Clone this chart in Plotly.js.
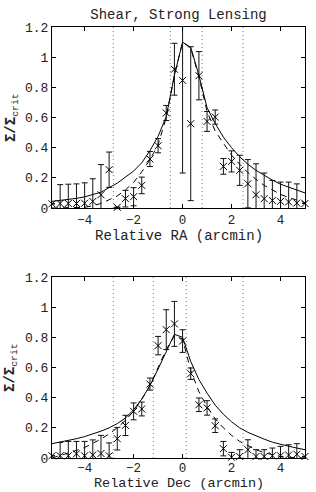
<!DOCTYPE html>
<html>
<head>
<meta charset="utf-8">
<script src="https://cdn.plot.ly/plotly-3.0.1.min.js"></script>
<style>html,body{margin:0;padding:0;background:#fff;}#plot{width:316px;height:492px;}</style>
</head>
<body>
<div id="plot"></div>
<script>
// Offsets in arcmin (same bins for both panels)
const offsets = [-5.333,-5,-4.667,-4.333,-4,-3.667,-3.333,-3,-2.667,-2.333,-2,-1.667,-1.333,-1,-0.667,-0.333,0,
                 0.333,0.667,1,1.333,1.667,2,2.333,2.667,3,3.333,3.667,4,4.333,4.667,5];

// Panel 1: Relative RA
const raData  = [0.028,0.03,0.03,0.03,0.032,0.044,0.088,0.254,0.005,0.062,0.075,0.15,0.325,0.413,0.63,0.92,0.846,
                 0.559,0.877,0.574,0.603,0.276,0.309,0.25,0.161,0.088,0.062,0.05,0.044,0.04,0.033,0.03];
const raErr   = [0,0.125,0.128,0.13,0.135,0.15,0.2,0.117,0,0.055,0.06,0.055,0.05,0.047,0.05,0.172,0.614,
                 0.51,0.16,0.066,0.047,0.052,0.07,0.1,0.16,0.205,0.17,0.133,0.128,0.132,0.127,0];
const raModelSolid  = [0.044,0.05,0.056,0.064,0.074,0.088,0.105,0.135,0.165,0.205,0.245,0.3,0.38,0.475,0.607,0.88,1.1,
                       1.065,0.88,0.665,0.56,0.47,0.4,0.34,0.29,0.25,0.215,0.185,0.158,0.138,0.118,0.1];
const raModelDashed = [0,0,0,0,0.005,0.015,0.03,0.055,0.08,0.12,0.17,0.24,0.32,0.42,0.6,0.88,1.1,
                       1.06,0.87,0.64,0.51,0.43,0.35,0.29,0.235,0.19,0.15,0.12,0.09,0.07,0.05,0.035];
const raGuides = [-2.83,-0.5,0.8,2.47];

// Panel 2: Relative Dec
const decData = [0.015,0.015,0.015,0.028,0.015,0.02,0.03,0.015,0.128,0.216,0.309,0.325,0.49,0.745,0.851,0.889,0.775,
                 0.559,0.353,0.332,0.214,0.062,0.005,0.01,0.055,0.01,0.01,0.015,0.015,0.02,0.025,0.01];
const decErr  = [0,0.088,0.095,0.082,0.095,0.1,0.12,0.085,0.075,0.067,0.056,0.046,0.04,0.061,0.132,0.149,0.075,
                 0.038,0.045,0.048,0.045,0.048,0.032,0.045,0.066,0.045,0.045,0.051,0.062,0.068,0.07,0];
const decModelSolid  = [0.095,0.105,0.115,0.128,0.142,0.158,0.178,0.2,0.228,0.265,0.32,0.39,0.48,0.59,0.71,0.82,0.8,
                        0.64,0.52,0.43,0.35,0.29,0.24,0.2,0.17,0.145,0.125,0.105,0.09,0.078,0.066,0.055];
const decModelDashed = [0,0.015,0.03,0.05,0.07,0.095,0.125,0.16,0.2,0.25,0.31,0.39,0.48,0.6,0.72,0.81,0.79,
                        0.58,0.44,0.34,0.26,0.2,0.15,0.11,0.08,0.055,0.035,0.02,0.01,0.005,0,0];
const decGuides = [-2.83,-1.2,0.15,2.47];

const yTickVals = [0,0.2,0.4,0.6,0.8,1,1.2];
const yTickText = ['0','0.2','0.4','0.6','0.8','1','1.2'];
const xTickVals = [-4,-2,0,2,4];
const xTickText = ['\u22124','\u22122','0','2','4'];

const FONT = 'Liberation Mono, Courier New, monospace';
const TXT = '#222';

function panelTraces(data, err, solid, dashed, guides, xa, ya) {
  const tr = [];
  guides.forEach(g => tr.push({x:[g,g], y:[0,1.2], xaxis:xa, yaxis:ya, mode:'lines',
      line:{color:'#777', width:1, dash:'1px,3px'}, hoverinfo:'skip', showlegend:false}));
  tr.push({x:offsets, y:solid, xaxis:xa, yaxis:ya, mode:'lines', line:{color:'#000', width:1}, showlegend:false});
  tr.push({x:offsets, y:dashed, xaxis:xa, yaxis:ya, mode:'lines', line:{color:'#000', width:1, dash:'6px,5px'}, showlegend:false});
  tr.push({x:offsets, y:data, xaxis:xa, yaxis:ya, mode:'markers', marker:{opacity:0, size:2},
      error_y:{type:'data', array:err, visible:true, color:'#111', thickness:1, width:3},
      cliponaxis:true, showlegend:false});
  tr.push({x:offsets, y:data, xaxis:xa, yaxis:ya, mode:'markers',
      marker:{symbol:'x-thin-open', size:7, color:'#000', line:{color:'#000', width:1}},
      cliponaxis:false, showlegend:false});
  return tr;
}

const traces = [].concat(
  panelTraces(raData, raErr, raModelSolid, raModelDashed, raGuides, 'x', 'y'),
  panelTraces(decData, decErr, decModelSolid, decModelDashed, decGuides, 'x2', 'y2')
);

function xax(anchor, standoff) {
  return {anchor:anchor, range:[-5.333,5], tickvals:xTickVals, ticktext:xTickText, ticks:'inside', ticklen:4,
    tickcolor:'#000', showline:true, linecolor:'#000', linewidth:1, mirror:'allticks', showgrid:false, zeroline:false,
    ticklabelstandoff:standoff,
    tickfont:{family:FONT, size:12.5, color:TXT}};
}
function yax(anchor, domain) {
  return {anchor:anchor, domain:domain, range:[0,1.2], tickvals:yTickVals, ticktext:yTickText, ticks:'inside', ticklen:4,
    tickcolor:'#000', showline:true, linecolor:'#000', linewidth:1, mirror:'allticks', showgrid:false, zeroline:false,
    tickfont:{family:FONT, size:13, color:TXT}};
}

const layout = {
  width:316, height:492,
  margin:{l:52, r:11, t:27, b:34},
  paper_bgcolor:'#fff', plot_bgcolor:'#fff',
  showlegend:false,
  title:{text:'Shear, Strong Lensing', font:{family:FONT, size:14, color:TXT},
         x:0.565, xanchor:'center', y:0.972, yanchor:'middle', yref:'container'},
  xaxis: xax('y', 0),
  yaxis: yax('x', [0.58, 1]),
  xaxis2: xax('y2', -2),
  yaxis2: yax('x2', [0, 0.42]),
  annotations:[
    {text:'Relative RA (arcmin)', xref:'paper', yref:'paper', x:0.5, y:(458-236)/431, borderpad:0,
     xanchor:'center', yanchor:'middle', showarrow:false, font:{family:FONT, size:14, color:TXT}},
    {text:'Relative Dec (arcmin)', xref:'paper', yref:'paper', x:0.5, y:0, yshift:-34, borderpad:0,
     xanchor:'center', yanchor:'bottom', showarrow:false, font:{family:FONT, size:13.5, color:TXT}},
    {text:'<b>\u03A3/\u03A3</b><sub>crit</sub>', textangle:-90, xref:'paper', yref:'paper',
     x:-0.16, y:0.79, xanchor:'center', yanchor:'middle', showarrow:false,
     font:{family:FONT, size:14, color:TXT}},
    {text:'<b>\u03A3/\u03A3</b><sub>crit</sub>', textangle:-90, xref:'paper', yref:'paper',
     x:-0.16, y:0.21, xanchor:'center', yanchor:'middle', showarrow:false,
     font:{family:FONT, size:14, color:TXT}}
  ]
};

Plotly.newPlot('plot', traces, layout, {displayModeBar:false, staticPlot:true});
</script>
</body>
</html>
